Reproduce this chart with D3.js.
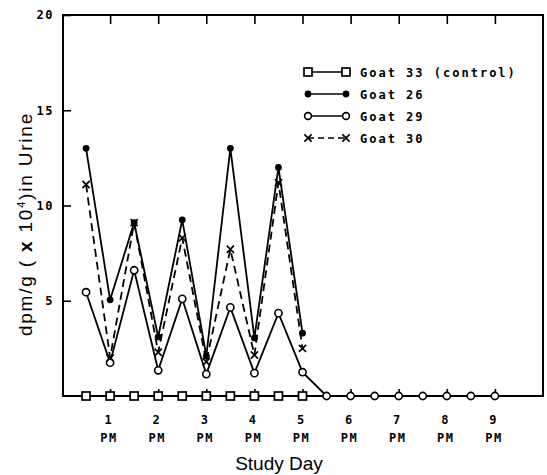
<!DOCTYPE html>
<html>
<head>
<meta charset="utf-8">
<script src="https://cdn.jsdelivr.net/npm/d3@7"></script>
<style>
  html, body { margin: 0; padding: 0; background: #fff; }
  svg { display: block; }
  .mono { font-family: "DejaVu Sans Mono", "Liberation Mono", monospace; font-weight: bold; }
</style>
</head>
<body>
<svg id="chart" width="547" height="475"></svg>
<script>
// Sampling times in study days (morning and afternoon samples)
const halfDays = [0.5, 1, 1.5, 2, 2.5, 3, 3.5, 4, 4.5, 5, 5.5, 6, 6.5, 7, 7.5, 8, 8.5, 9];
const dayTicks = [1, 2, 3, 4, 5, 6, 7, 8, 9];
const yTicks = [5, 10, 15, 20];

// Urinary activity, dpm/g (x 10^4)
const goat33 = [0, 0, 0, 0, 0, 0, 0, 0, 0, 0];
const goat26 = [13.0, 5.05, 9.1, 3.1, 9.25, 2.1, 13.0, 3.05, 12.0, 3.3];
const goat29 = [5.45, 1.75, 6.6, 1.35, 5.1, 1.15, 4.65, 1.2, 4.35, 1.25, 0, 0, 0, 0, 0, 0, 0, 0];
const goat30 = [11.1, 2.0, 9.1, 2.3, 8.3, 1.8, 7.7, 2.15, 11.2, 2.5];

const legendLabels = ["Goat 33 (control)", "Goat 26", "Goat 29", "Goat 30"];

const svg = d3.select("#chart");
const plotLeft = 63, plotRight = 543, plotTop = 15, plotBottom = 396;

const x = d3.scaleLinear().domain([0, 10]).range([62, 543]);
const y = d3.scaleLinear().domain([0, 20]).range([plotBottom, plotTop]);

const ink = "#000";

// Frame
svg.append("rect")
  .attr("x", plotLeft).attr("y", plotTop)
  .attr("width", plotRight - plotLeft).attr("height", plotBottom - plotTop)
  .attr("fill", "none").attr("stroke", ink).attr("stroke-width", 2);

// Top axis: inward ticks only
svg.append("g")
  .attr("transform", `translate(0,${plotTop})`)
  .call(d3.axisTop(x).tickValues(dayTicks).tickSizeInner(-9).tickSizeOuter(0).tickFormat(""))
  .call(g => g.select(".domain").remove())
  .call(g => g.selectAll("line").attr("stroke", ink).attr("stroke-width", 1.6));

// Bottom axis: inward ticks, labels drawn as day + "PM"
svg.append("g")
  .attr("transform", `translate(0,${plotBottom})`)
  .call(d3.axisBottom(x).tickValues(dayTicks).tickSizeInner(-7).tickSizeOuter(0).tickFormat(""))
  .call(g => g.select(".domain").remove())
  .call(g => g.selectAll("line").attr("stroke", ink).attr("stroke-width", 1.6));

const dayLabels = svg.append("g").attr("class", "mono")
  .attr("font-size", 12).attr("fill", ink).attr("text-anchor", "middle");
dayLabels.selectAll("text.num").data(dayTicks).join("text")
  .attr("class", "num")
  .attr("x", d => x(d) - 2).attr("y", 424)
  .text(d => d);
dayLabels.selectAll("text.pm").data(dayTicks).join("text")
  .attr("class", "pm")
  .attr("x", d => x(d) - 1).attr("y", 442)
  .attr("letter-spacing", 1.5)
  .text("PM");

// Left axis
svg.append("g")
  .attr("transform", `translate(${plotLeft},0)`)
  .call(d3.axisLeft(y).tickValues(yTicks).tickSizeInner(-8).tickSizeOuter(0).tickPadding(9))
  .call(g => g.select(".domain").remove())
  .call(g => g.selectAll("line").attr("stroke", ink).attr("stroke-width", 1.6))
  .call(g => g.selectAll("text")
    .attr("class", "mono")
    .attr("font-size", 12)
    .attr("letter-spacing", 1.5)
    .attr("fill", ink));

// Axis titles
svg.append("text")
  .attr("x", 279).attr("y", 470)
  .attr("text-anchor", "middle")
  .attr("font-family", "Liberation Sans, Arial, sans-serif")
  .attr("font-size", 19).attr("fill", ink)
  .text("Study Day");

const yTitle = svg.append("text")
  .attr("transform", "translate(32,224) rotate(-90)")
  .attr("text-anchor", "middle")
  .attr("font-family", "Liberation Sans, Arial, sans-serif")
  .attr("font-size", 19).attr("letter-spacing", 1.8).attr("fill", ink);
yTitle.append("tspan").text("dpm/g ( ");
yTitle.append("tspan").attr("font-weight", "bold").text("x");
yTitle.append("tspan").text(" 10");
yTitle.append("tspan").attr("font-size", 11).attr("dy", -7).text("4");
yTitle.append("tspan").attr("dy", 7).text(")in Urine");

// Series
const pts = vals => vals.map((v, i) => [halfDays[i], v]);
const line = d3.line().x(d => x(d[0])).y(d => y(d[1]));

const plot = svg.append("g");

function drawLine(vals, dash) {
  plot.append("path")
    .attr("d", line(pts(vals)))
    .attr("fill", "none").attr("stroke", ink)
    .attr("stroke-width", 1.8)
    .attr("stroke-dasharray", dash || null);
}

drawLine(goat33);
drawLine(goat29);
drawLine(goat26);
drawLine(goat30, "8,5");

// Markers
function squares(g, data, s) {
  g.selectAll(null).data(data).join("rect")
    .attr("x", d => x(d[0]) - s / 2).attr("y", d => y(d[1]) - s / 2)
    .attr("width", s).attr("height", s)
    .attr("fill", "#fff").attr("stroke", ink).attr("stroke-width", 1.7);
}
function openCircles(g, data, r) {
  g.selectAll(null).data(data).join("circle")
    .attr("cx", d => x(d[0])).attr("cy", d => y(d[1])).attr("r", r)
    .attr("fill", "#fff").attr("stroke", ink).attr("stroke-width", 1.6);
}
function dots(g, data, r) {
  g.selectAll(null).data(data).join("circle")
    .attr("cx", d => x(d[0])).attr("cy", d => y(d[1])).attr("r", r)
    .attr("fill", ink);
}
function crosses(g, data, s) {
  g.selectAll(null).data(data).join("path")
    .attr("d", d => {
      const cx = x(d[0]), cy = y(d[1]);
      return `M${cx - s},${cy - s}L${cx + s},${cy + s}M${cx + s},${cy - s}L${cx - s},${cy + s}`;
    })
    .attr("stroke", ink).attr("stroke-width", 1.7).attr("fill", "none");
}

squares(plot.append("g"), pts(goat33), 8);
openCircles(plot.append("g"), pts(goat29), 3.6);
dots(plot.append("g"), pts(goat26), 3.4);
crosses(plot.append("g"), pts(goat30), 3.6);

// Legend
const legend = svg.append("g");
const rowY = [72, 94, 116, 138];
const lx1 = 308, lx2 = 346;

legendLabels.forEach((label, i) => {
  const ly = rowY[i];
  const seg = [[lx1, ly], [lx2, ly]];
  legend.append("line")
    .attr("x1", lx1).attr("y1", ly).attr("x2", lx2).attr("y2", ly)
    .attr("stroke", ink).attr("stroke-width", 1.7)
    .attr("stroke-dasharray", i === 3 ? "6,4" : null);
  const g = legend.append("g");
  const ident = seg.map(p => [x.invert(p[0]), y.invert(p[1])]);
  if (i === 0) squares(g, ident, 8);
  if (i === 1) dots(g, ident, 3.4);
  if (i === 2) openCircles(g, ident, 3.4);
  if (i === 3) crosses(g, ident, 3.6);
  legend.append("text")
    .attr("class", "mono")
    .attr("x", 360).attr("y", ly + 4.5)
    .attr("font-size", 12).attr("letter-spacing", 2)
    .attr("fill", ink)
    .text(label);
});
</script>
</body>
</html>
